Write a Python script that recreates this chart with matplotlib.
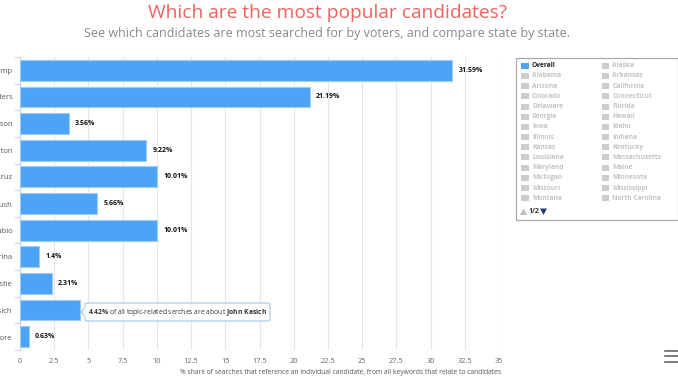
import matplotlib
matplotlib.use("Agg")
import matplotlib.pyplot as plt
from matplotlib.patches import Rectangle, FancyBboxPatch, Polygon
from matplotlib.lines import Line2D

plt.rcParams['font.family'] = ['Open Sans', 'DejaVu Sans']
plt.rcParams['mathtext.fontset'] = 'custom'
plt.rcParams['mathtext.rm'] = 'Open Sans'
plt.rcParams['mathtext.bf'] = 'Open Sans:bold'

candidates = ["Donald Trump", "Bernie Sanders", "Ben Carson", "Hillary Clinton",
              "Ted Cruz", "Jeb Bush", "Marco Rubio", "Carly Fiorina",
              "Chris Christie", "John Kasich", "Jim Gilmore"]
shares = [31.59, 21.19, 3.56, 9.22, 10.01, 5.66, 10.01, 1.4, 2.31, 4.42, 0.63]
value_labels = ["31.59%", "21.19%", "3.56%", "9.22%", "10.01%", "5.66%",
                "10.01%", "1.4%", "2.31%", "4.42%", "0.63%"]
xticks = [0, 2.5, 5, 7.5, 10, 12.5, 15, 17.5, 20, 22.5, 25, 27.5, 30, 32.5, 35]
xtick_labels = ["0", "2.5", "5", "7.5", "10", "12.5", "15", "17.5", "20",
                "22.5", "25", "27.5", "30", "32.5", "35"]
legend_col1 = ["Overall", "Alabama", "Arizona", "Colorado", "Delaware", "Georgia",
               "Iowa", "Illinois", "Kansas", "Louisiana", "Maryland", "Michigan",
               "Missouri", "Montana"]
legend_col2 = ["Alaska", "Arkansas", "California", "Connecticut", "Florida", "Hawaii",
               "Idaho", "Indiana", "Kentucky", "Massachusetts", "Maine", "Minnesota",
               "Mississippi", "North Carolina"]
tooltip_idx = 9

W, H = 678, 381
fig = plt.figure(figsize=(W / 100, H / 100), dpi=100)

def fx(px):
    return px / W

def fy(py):
    return 1 - py / H

ax = fig.add_axes([fx(20), fy(350), fx(499) - fx(20), fy(57) - fy(350)])
n = len(candidates)
ypos = list(range(n))
bar_color = '#4da3f6'
ax.barh(ypos, shares, height=0.78, color=bar_color, edgecolor='#9fcbf8', linewidth=0.8, zorder=3)
ax.set_ylim(n - 0.5, -0.5)
ax.set_xlim(0, 35)
ax.set_xticks(xticks)
ax.set_xticklabels(xtick_labels)
ax.tick_params(axis='x', length=0, labelsize=5.3, labelcolor='#666666', pad=6)
ax.set_yticks(ypos)
ax.set_yticklabels(candidates)
ax.tick_params(axis='y', length=0, labelsize=5.5, labelcolor='#555555', pad=5.5)
ax.set_yticks([i + 0.5 for i in range(-1, n)], minor=True)
ax.tick_params(axis='y', which='minor', length=4, color='#ccd6eb', width=0.8)
ax.grid(axis='x', color='#e6e6e6', linewidth=0.8, zorder=0)
for s in ['top', 'right', 'bottom']:
    ax.spines[s].set_visible(False)
ax.spines['left'].set_color('#ccd6eb')
ax.spines['left'].set_linewidth(0.8)

for i, (v, lab) in enumerate(zip(shares, value_labels)):
    if i == tooltip_idx:
        continue
    ax.annotate(lab, xy=(v, i), xytext=(4.5, 0), textcoords='offset points',
                va='center', ha='left', fontsize=5.0, fontweight='bold', color='#111111')

# tooltip
tv = shares[tooltip_idx]
x_bar_end_px = 20 + tv / 35 * 479
tip_left, tip_right, tip_top, tip_bot = 85, 270, 303, 321
box = FancyBboxPatch((fx(tip_left), fy(tip_bot)), fx(tip_right) - fx(tip_left), fy(tip_top) - fy(tip_bot),
                     boxstyle='round,pad=0,rounding_size=0.004', transform=fig.transFigure,
                     facecolor='white', edgecolor='#a6c8ee', linewidth=0.9, zorder=10, alpha=0.95)
fig.add_artist(box)
tri = Polygon([(fx(tip_left), fy(307)), (fx(x_bar_end_px + 1), fy(312)), (fx(tip_left), fy(317))],
              closed=True, transform=fig.transFigure, facecolor='white', edgecolor='#a6c8ee',
              linewidth=0.9, zorder=11)
fig.add_artist(tri)
fig.add_artist(Line2D([fx(tip_left), fx(tip_left)], [fy(307.6), fy(316.4)], transform=fig.transFigure,
                      color='white', linewidth=1.2, zorder=12))
fig.text(fx(88), fy(312), r"$\bf{" + value_labels[tooltip_idx].replace('%', r'\%') + r"}$ of all topic-related serches are about $\bf{John\ Kasich}$",
         fontsize=4.9, color='#333333', va='center', ha='left', zorder=13)

# titles
fig.text(fx(328), fy(13.5), "Which are the most popular candidates?", fontsize=13.8,
         color='#f0625d', ha='center', va='center')
fig.text(fx(327), fy(33), "See which candidates are most searched for by voters, and compare state by state.",
         fontsize=9, color='#888888', ha='center', va='center')
fig.text(fx(341), fy(372), "% share of searches that reference an individual candidate, from all keywords that relate to candidates",
         fontsize=4.85, color='#555555', ha='center', va='center')

# legend box
fig.add_artist(Rectangle((fx(515.5), fy(220)), fx(678) - fx(515.5), fy(58) - fy(220),
                         transform=fig.transFigure, facecolor='white', edgecolor='#aaaaaa', linewidth=0.9))
row0, step = 65.7, 10.2
for col, (names, sqx, tx) in enumerate([(legend_col1, 521, 532), (legend_col2, 601.5, 612.5)]):
    for r, name in enumerate(names):
        yy = row0 + r * step
        active = (col == 0 and r == 0)
        fig.add_artist(Rectangle((fx(sqx), fy(yy + 3)), fx(7.5), fy(yy - 3) - fy(yy + 3),
                                 transform=fig.transFigure,
                                 facecolor=bar_color if active else '#cccccc', edgecolor='none'))
        fig.text(fx(tx), fy(yy), name, fontsize=4.8, fontweight='bold',
                 color='#222222' if active else '#c4c4c4', ha='left', va='center')
# pager
fig.add_artist(Polygon([(fx(520), fy(215)), (fx(523.5), fy(208.5)), (fx(527), fy(215))], closed=True,
                       transform=fig.transFigure, facecolor='#bbbbbb', edgecolor='none'))
fig.text(fx(529), fy(211.5), "1/2", fontsize=5.0, fontweight='bold', color='#333333', ha='left', va='center')
fig.add_artist(Polygon([(fx(540), fy(208.5)), (fx(543.5), fy(215)), (fx(547), fy(208.5))], closed=True,
                       transform=fig.transFigure, facecolor='#1f3f7a', edgecolor='none'))

# menu icon
for yy in [351, 356, 361.5]:
    fig.add_artist(Line2D([fx(665), fx(678)], [fy(yy), fy(yy)], transform=fig.transFigure,
                          color='#666666', linewidth=1.2))

fig.savefig("out.png", dpi=100, facecolor='white')
